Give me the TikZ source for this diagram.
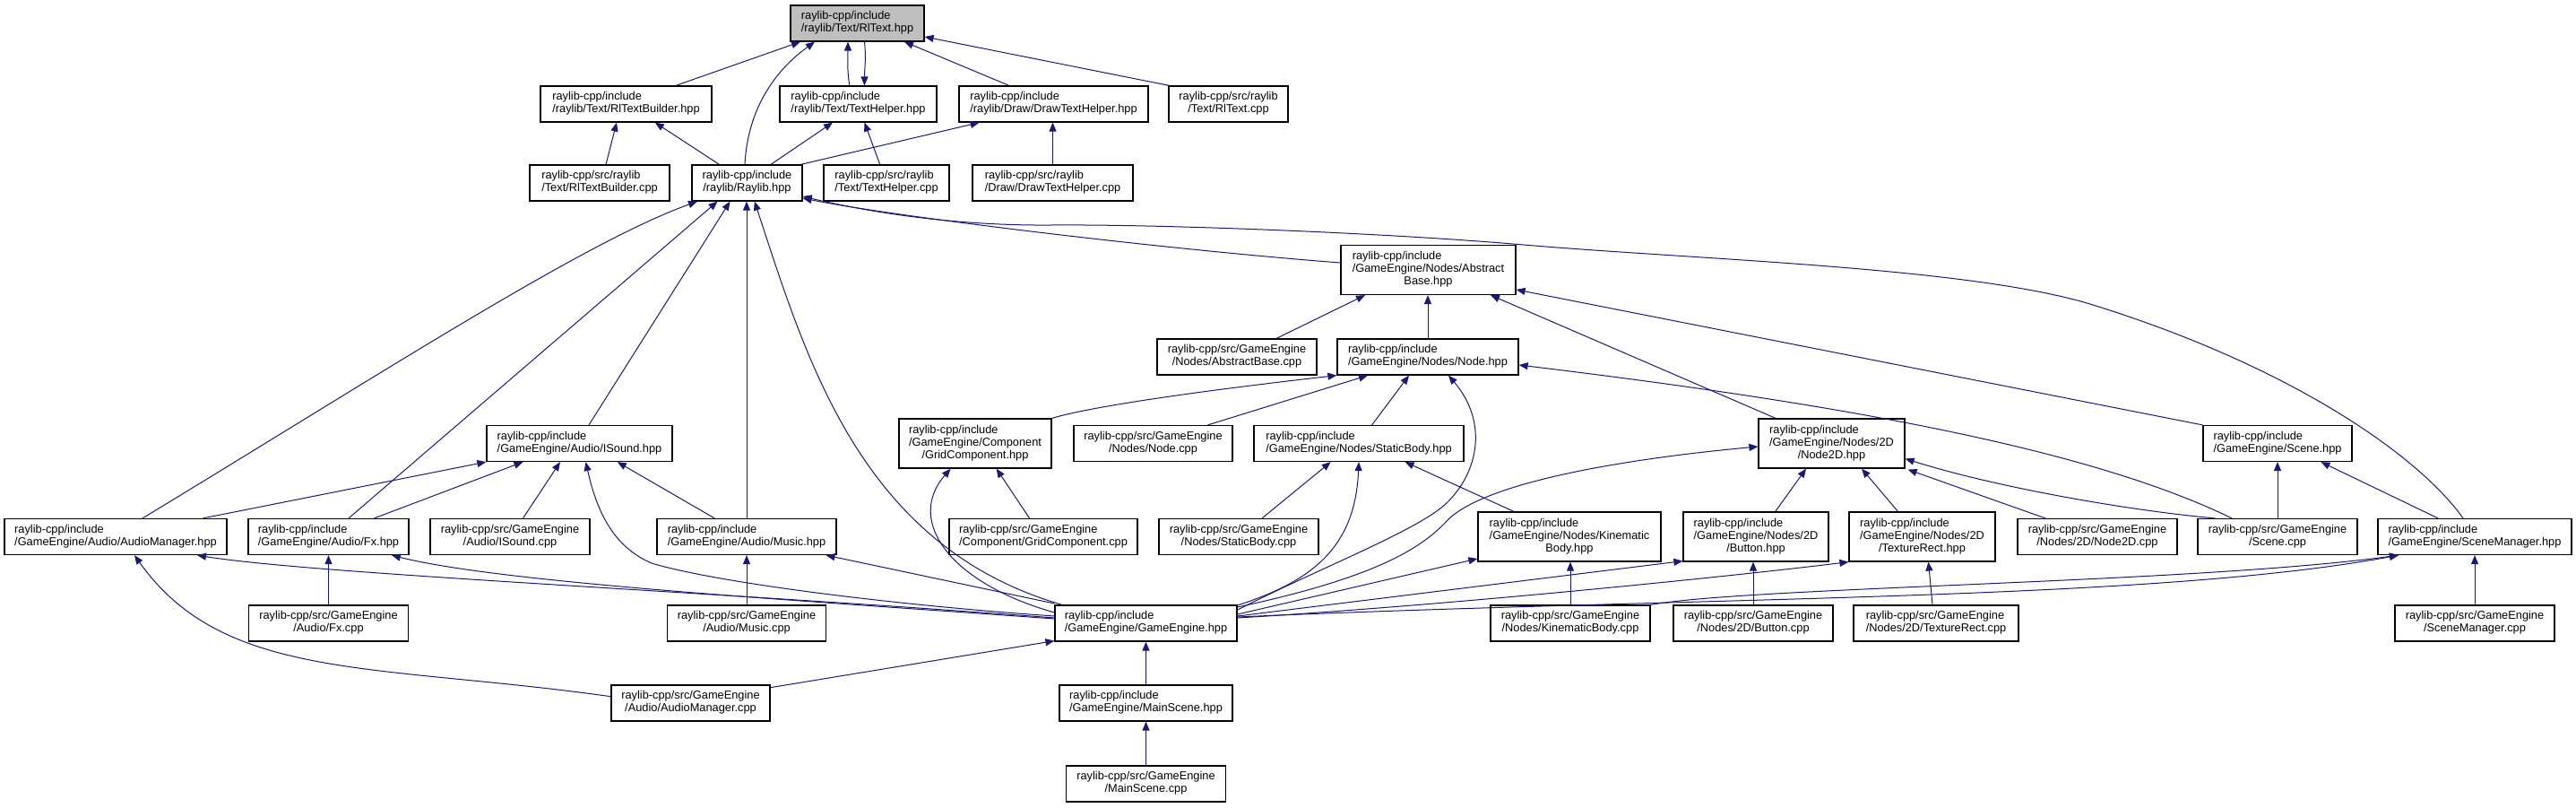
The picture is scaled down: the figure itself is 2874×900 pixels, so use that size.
\documentclass[tikz,border=0pt]{standalone}
\usepackage{fontspec}
\setmainfont{Liberation Sans}
\usetikzlibrary{arrows.meta,calc}
\definecolor{edgeblue}{HTML}{191970}
\definecolor{boxgray}{HTML}{BFBFBF}
\newcommand{\Ltwo}[2]{\begin{tabular}{@{}l@{}}#1\\\multicolumn{1}{@{}c@{}}{#2}\end{tabular}}
\newcommand{\Lthree}[3]{\begin{tabular}{@{}l@{}}#1\\#2\\\multicolumn{1}{@{}c@{}}{#3}\end{tabular}}
\tikzset{
  box/.style={draw=black, line width=1.2pt, fill=white, inner sep=0pt, minimum height=40pt,
    font=\fontsize{12.8pt}{14pt}\selectfont},
  tall/.style={minimum height=55pt},
  dep/.style={draw=edgeblue, line width=1pt, -{Triangle[length=10pt,width=8pt]}}
}
\begin{document}
\begin{tikzpicture}[x=1pt,y=-1pt]
\useasboundingbox (0,0) rectangle (2874,900);
% row 1
\node[box, fill=boxgray, minimum width=149pt] (rltext) at (956.5,26) {\Ltwo{raylib-cpp/include}{/raylib/Text/RlText.hpp}};
% row 2
\node[box, minimum width=191pt] (rltbh) at (698.5,116) {\Ltwo{raylib-cpp/include}{/raylib/Text/RlTextBuilder.hpp}};
\node[box, minimum width=175pt] (thh) at (957.5,116) {\Ltwo{raylib-cpp/include}{/raylib/Text/TextHelper.hpp}};
\node[box, minimum width=211pt] (dthh) at (1175.5,116) {\Ltwo{raylib-cpp/include}{/raylib/Draw/DrawTextHelper.hpp}};
\node[box, minimum width=133pt] (rltextcpp) at (1370.5,116) {\Ltwo{raylib-cpp/src/raylib}{/Text/RlText.cpp}};
% row 3
\node[box, minimum width=156pt] (rltbcpp) at (669,204) {\Ltwo{raylib-cpp/src/raylib}{/Text/RlTextBuilder.cpp}};
\node[box, minimum width=123pt] (raylib) at (833.5,204) {\Ltwo{raylib-cpp/include}{/raylib/Raylib.hpp}};
\node[box, minimum width=140pt] (thcpp) at (989,204) {\Ltwo{raylib-cpp/src/raylib}{/Text/TextHelper.cpp}};
\node[box, minimum width=179pt] (dthcpp) at (1174.5,204) {\Ltwo{raylib-cpp/src/raylib}{/Draw/DrawTextHelper.cpp}};
% row 4
\node[box, tall, minimum width=195pt] (absh) at (1593.5,301) {\Lthree{raylib-cpp/include}{/GameEngine/Nodes/Abstract}{Base.hpp}};
% row 5
\node[box, minimum width=178pt] (abscpp) at (1380,398) {\Ltwo{raylib-cpp/src/GameEngine}{/Nodes/AbstractBase.cpp}};
\node[box, minimum width=202pt] (nodeh) at (1593,398) {\Ltwo{raylib-cpp/include}{/GameEngine/Nodes/Node.hpp}};
% row 6
\node[box, minimum width=207pt] (isoundh) at (646.5,494.5) {\Ltwo{raylib-cpp/include}{/GameEngine/Audio/ISound.hpp}};
\node[box, tall, minimum width=170pt] (gridh) at (1088,494.5) {\Lthree{raylib-cpp/include}{/GameEngine/Component}{/GridComponent.hpp}};
\node[box, minimum width=177pt] (nodecpp) at (1286.5,494.5) {\Ltwo{raylib-cpp/src/GameEngine}{/Nodes/Node.cpp}};
\node[box, minimum width=234pt] (statich) at (1516,494.5) {\Ltwo{raylib-cpp/include}{/GameEngine/Nodes/StaticBody.hpp}};
\node[box, tall, minimum width=163pt] (node2dh) at (2043.5,494.5) {\Lthree{raylib-cpp/include}{/GameEngine/Nodes/2D}{/Node2D.hpp}};
\node[box, minimum width=166pt] (sceneh) at (2541,494.5) {\Ltwo{raylib-cpp/include}{/GameEngine/Scene.hpp}};
% row 7
\node[box, minimum width=248pt] (audh) at (129,598.5) {\Ltwo{raylib-cpp/include}{/GameEngine/Audio/AudioManager.hpp}};
\node[box, minimum width=179pt] (fxh) at (366.5,598.5) {\Ltwo{raylib-cpp/include}{/GameEngine/Audio/Fx.hpp}};
\node[box, minimum width=178pt] (isoundcpp) at (569,598.5) {\Ltwo{raylib-cpp/src/GameEngine}{/Audio/ISound.cpp}};
\node[box, minimum width=200pt] (musich) at (833,598.5) {\Ltwo{raylib-cpp/include}{/GameEngine/Audio/Music.hpp}};
\node[box, minimum width=210pt] (gridcpp) at (1164,598.5) {\Ltwo{raylib-cpp/src/GameEngine}{/Component/GridComponent.cpp}};
\node[box, minimum width=178pt] (staticcpp) at (1382,598.5) {\Ltwo{raylib-cpp/src/GameEngine}{/Nodes/StaticBody.cpp}};
\node[box, tall, minimum width=204pt] (kinh) at (1751,598.5) {\Lthree{raylib-cpp/include}{/GameEngine/Nodes/Kinematic}{Body.hpp}};
\node[box, tall, minimum width=162pt] (buttonh) at (1959,598.5) {\Lthree{raylib-cpp/include}{/GameEngine/Nodes/2D}{/Button.hpp}};
\node[box, tall, minimum width=163pt] (texh) at (2144.5,598.5) {\Lthree{raylib-cpp/include}{/GameEngine/Nodes/2D}{/TextureRect.hpp}};
\node[box, minimum width=178pt] (node2dcpp) at (2340,598.5) {\Ltwo{raylib-cpp/src/GameEngine}{/Nodes/2D/Node2D.cpp}};
\node[box, minimum width=178pt] (scenecpp) at (2541,598.5) {\Ltwo{raylib-cpp/src/GameEngine}{/Scene.cpp}};
\node[box, minimum width=216pt] (smh) at (2761,598.5) {\Ltwo{raylib-cpp/include}{/GameEngine/SceneManager.hpp}};
% row 8
\node[box, minimum width=178pt] (fxcpp) at (366.5,695) {\Ltwo{raylib-cpp/src/GameEngine}{/Audio/Fx.cpp}};
\node[box, minimum width=177pt] (musiccpp) at (833,695) {\Ltwo{raylib-cpp/src/GameEngine}{/Audio/Music.cpp}};
\node[box, minimum width=203pt] (geh) at (1278.5,695) {\Ltwo{raylib-cpp/include}{/GameEngine/GameEngine.hpp}};
\node[box, minimum width=178pt] (kincpp) at (1752,695) {\Ltwo{raylib-cpp/src/GameEngine}{/Nodes/KinematicBody.cpp}};
\node[box, minimum width=178pt] (buttoncpp) at (1956,695) {\Ltwo{raylib-cpp/src/GameEngine}{/Nodes/2D/Button.cpp}};
\node[box, minimum width=184pt] (texcpp) at (2160,695) {\Ltwo{raylib-cpp/src/GameEngine}{/Nodes/2D/TextureRect.cpp}};
\node[box, minimum width=178pt] (smcpp) at (2761,695) {\Ltwo{raylib-cpp/src/GameEngine}{/SceneManager.cpp}};
% row 9
\node[box, minimum width=177pt] (audcpp) at (770.5,784) {\Ltwo{raylib-cpp/src/GameEngine}{/Audio/AudioManager.cpp}};
\node[box, minimum width=193pt] (msh) at (1278.5,784) {\Ltwo{raylib-cpp/include}{/GameEngine/MainScene.hpp}};
% row 10
\node[box, minimum width=178pt] (mscpp) at (1278.5,874) {\Ltwo{raylib-cpp/src/GameEngine}{/MainScene.cpp}};

% ---- edges ----
\draw[dep] ($(rltbh.north)+(55.5,0)$) -- ($(rltext.south)+(-63.5,0)$);
\draw[dep] ($(raylib.north)+(-2.5,0)$) .. controls +(3,-59) and +(-47,34) .. ($(rltext.south)+(-47.5,0)$);
\draw[dep] ($(thh.north)+(-9.7,0)$) .. controls +(-3,-20) and +(0,20) .. ($(rltext.south)+(-10.5,0)$);
\draw[dep] ($(rltext.south)+(8,0)$) .. controls +(2,20) and +(0,-20) .. ($(thh.north)+(7,0)$);
\draw[dep] ($(dthh.north)+(-49.7,0)$) -- ($(rltext.south)+(52.5,0)$);
\draw[dep] ($(rltextcpp.north)+(-66,0)$) -- ($(rltext.east)+(0,15)$);
\draw[dep] ($(rltbcpp.north)+(7,0)$) -- ($(rltbh.south)+(-10.5,0)$);
\draw[dep] ($(raylib.north)+(-31,0)$) -- ($(rltbh.south)+(32.3,0)$);
\draw[dep] ($(raylib.north)+(26.5,0)$) -- ($(thh.south)+(-28.5,0)$);
\draw[dep] ($(thcpp.north)+(-7.3,0)$) -- ($(thh.south)+(7,0)$);
\draw[dep] ($(raylib.north)+(60,0)$) -- ($(dthh.south)+(-82.8,0)$);
\draw[dep] (dthcpp.north) -- (dthcpp.north |- dthh.south);
% into Raylib.hpp
\draw[dep] ($(audh.north)+(30,0)$) .. controls +(261,-158) and +(-128,46) .. ($(raylib.south)+(-55.5,0)$);
\draw[dep] ($(fxh.north)+(22.5,0)$) -- ($(raylib.south)+(-33,0)$);
\draw[dep] ($(isoundh.north)+(10.5,0)$) -- ($(raylib.south)+(-19,0)$);
\draw[dep] (musich.north) -- (musich.north |- raylib.south);
\draw[dep] ($(geh.north)+(-93.5,0)$) .. controls +(-225,-65) and +(58,176) .. ($(raylib.south)+(8.3,0)$);
\draw[dep] ($(absh.west)+(0,-8)$) .. controls +(-196,-15) and +(105,21) .. ($(raylib.east)+(0,17)$);
\draw[dep] ($(smh.north)+(-13,0)$) .. controls (2700,510) and (2560,410) .. (2335,340)
   .. controls (2200,298) and (1900,290) .. (1700,273)
   .. controls (1550,260) and (1300,250) .. (1172,251)
   .. controls (1050,252) and (950,232) .. ($(raylib.east)+(0,15)$);
% into AbstractBase.hpp
\draw[dep] ($(abscpp.north)+(44,0)$) -- ($(absh.south)+(-70.5,0)$);
\draw[dep] (nodeh.north) -- (nodeh.north |- absh.south);
\draw[dep] ($(node2dh.north)+(-62.5,0)$) -- ($(absh.south)+(69.5,0)$);
\draw[dep] (sceneh.north west) -- ($(absh.east)+(0,22)$);
% into Node.hpp
\draw[dep] (gridh.north east) .. controls +(60,-18) and +(-70,8) .. (nodeh.south west);
\draw[dep] ($(nodecpp.north)+(61,0)$) -- ($(nodeh.south)+(-67,0)$);
\draw[dep] ($(statich.north)+(14.6,0)$) -- ($(nodeh.south)+(-21,0)$);
\draw[dep] ($(geh.east)+(0,-15)$) .. controls (1480,630) and (1585,590) .. (1615,560)
   .. controls (1650,525) and (1660,470) .. ($(nodeh.south)+(23,0)$);
\draw[dep] ($(scenecpp.north)+(-51,0)$) .. controls +(-160,-78) and +(356,43) .. ($(nodeh.east)+(0,9)$);
% into Node2D.hpp
\draw[dep] ($(geh.east)+(0,-18)$) .. controls (1530,645) and (1585,613) .. (1615,580)
   .. controls (1660,535) and (1830,510) .. ($(node2dh.west)+(0,3.5)$);
\draw[dep] ($(buttonh.north)+(21.7,0)$) -- ($(node2dh.south)+(-28.5,0)$);
\draw[dep] ($(texh.north)+(-27,0)$) -- ($(node2dh.south)+(33.5,0)$);
\draw[dep] ($(node2dcpp.north)+(-58,0)$) -- ($(node2dh.south east)+(3,1)$);
\draw[dep] ($(scenecpp.north)+(-69.6,0)$) .. controls +(-91,-8) and +(105,33) .. ($(node2dh.east)+(0,17)$);
% Scene / SceneManager
\draw[dep] (scenecpp.north) -- (sceneh.south);
\draw[dep] ($(smh.north)+(-41,0)$) -- ($(sceneh.south)+(48.4,0)$);
\draw[dep] (smcpp.north) -- (smh.south);
\draw[dep] ($(geh.east)+(0,-7)$) .. controls +(520,-23) and +(-276,51) .. ($(smh.south)+(-85,0)$);
\draw[dep] (kincpp.north east) .. controls +(109,-20) and +(-226,31) .. ($(smh.south)+(-85,0)$);
% Kinematic / Button / TextureRect / StaticBody / Grid
\draw[dep] ($(geh.east)+(0,-10)$) -- ($(kinh.west)+(0,24.5)$);
\draw[dep] ($(geh.east)+(0,-8)$) -- ($(buttonh.south west)+(0,-1)$);
\draw[dep] ($(geh.east)+(0,-6)$) .. controls +(250,-15) and +(-113,14) .. (texh.south west);
\draw[dep] (kincpp.north) -- (kincpp.north |- kinh.south);
\draw[dep] (buttoncpp.north) -- (buttoncpp.north |- buttonh.south);
\draw[dep] ($(texcpp.north)+(-4,0)$) -- ($(texh.south)+(7,0)$);
\draw[dep] ($(staticcpp.north)+(26,0)$) -- ($(statich.south)+(-31.3,0)$);
\draw[dep] ($(geh.east)+(0,-20)$) .. controls +(80,-26) and +(-4,98) .. (statich.south);
\draw[dep] ($(kinh.north)+(-62,0)$) -- ($(statich.south)+(51.6,0)$);
\draw[dep] ($(gridcpp.north)+(-15.4,0)$) -- ($(gridh.south)+(23.6,0)$);
\draw[dep] ($(geh.west)+(0,-12)$) .. controls +(-117,-33) and +(-50.6,58) .. ($(gridh.south)+(-27.4,0)$);
% into ISound.hpp
\draw[dep] ($(audh.north)+(97.4,0)$) -- (isoundh.south west);
\draw[dep] ($(fxh.north)+(51,0)$) -- ($(isoundh.south)+(-63,0)$);
\draw[dep] ($(isoundcpp.north)+(14.5,0)$) -- ($(isoundh.south)+(-21.5,0)$);
\draw[dep] ($(geh.west)+(0,-8)$) .. controls (1000,675) and (800,650) .. (727,628)
   .. controls (690,612) and (668,580) .. ($(isoundh.south)+(7,0)$);
\draw[dep] ($(musich.north)+(-35.8,0)$) -- ($(isoundh.south)+(42.3,0)$);
% audio headers from GameEngine.hpp
\draw[dep] ($(geh.west)+(0,-6)$) .. controls +(-377,-29) and +(130,21) .. ($(audh.south)+(91,0)$);
\draw[dep] ($(geh.west)+(0,-5)$) .. controls +(-277,-20) and +(123,31) .. ($(fxh.south)+(70.4,0)$);
\draw[dep] ($(geh.west)+(0,-22)$) -- ($(musich.south)+(88.5,0)$);
\draw[dep] (fxcpp.north) -- (fxcpp.north |- fxh.south);
\draw[dep] (musiccpp.north) -- (musiccpp.north |- musich.south);
\draw[dep] ($(audcpp.west)+(0,-7.3)$) .. controls +(-262,-37) and +(100,141) .. ($(audh.south)+(21,0)$);
\draw[dep] ($(audcpp.east)+(0,-17.3)$) -- ($(geh.south west)+(0,-1)$);
\draw[dep] (msh.north) -- (geh.south);
\draw[dep] (mscpp.north) -- (mscpp.north |- msh.south);
\end{tikzpicture}
\end{document}
